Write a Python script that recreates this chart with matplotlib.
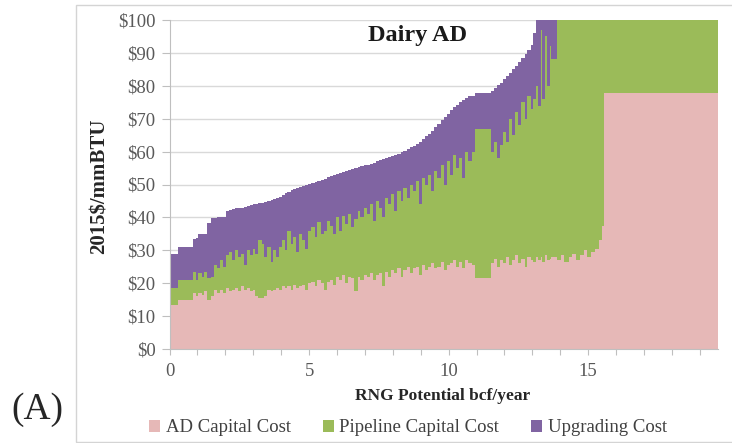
import numpy as np
import matplotlib
matplotlib.use("Agg")
import matplotlib.pyplot as plt
from matplotlib.patches import Patch, Rectangle

# ---- data: one entry per dairy site (sorted by total cost) ----
potential_bcf = [0.30, 0.55, 0.10, 0.08, 0.12, 0.10, 0.10, 0.13, 0.10, 0.12,
                 0.10, 0.12, 0.10, 0.10, 0.12, 0.10, 0.10, 0.12, 0.10, 0.10,
                 0.12, 0.10, 0.10, 0.10, 0.12, 0.10, 0.10, 0.12, 0.10, 0.10,
                 0.10, 0.10, 0.10, 0.10, 0.12, 0.10, 0.10, 0.10, 0.12, 0.10,
                 0.10, 0.12, 0.12, 0.10, 0.12, 0.10, 0.12, 0.10, 0.12, 0.10,
                 0.12, 0.10, 0.12, 0.10, 0.12, 0.10, 0.12, 0.10, 0.12, 0.10,
                 0.12, 0.10, 0.12, 0.10, 0.12, 0.10, 0.12, 0.10, 0.12, 0.10,
                 0.12, 0.10, 0.12, 0.10, 0.12, 0.10, 0.12, 0.10, 0.12, 0.10,
                 0.12, 0.10, 0.12, 0.12, 0.10, 0.12, 0.10, 0.12, 0.10, 0.12,
                 0.10, 0.12, 0.10, 0.13, 0.12, 0.55, 0.12, 0.10, 0.12, 0.10,
                 0.12, 0.10, 0.12, 0.10, 0.12, 0.10, 0.12, 0.10, 0.12, 0.10,
                 0.08, 0.08, 0.10, 0.06, 0.10, 0.06, 0.10, 0.06, 0.20, 0.15,
                 0.12, 0.15, 0.12, 0.15, 0.12, 0.15, 0.12, 0.15, 0.12, 0.15,
                 0.12, 0.08, 4.07]

ad_cost = [13.4, 15.0, 17.0, 16.0, 17.0, 16.5, 17.5, 15.0, 16.0, 18.0,
           17.0, 18.0, 17.0, 18.5, 17.5, 18.0, 18.5, 17.5, 19.0, 18.0,
           18.5, 17.5, 18.0, 16.0, 15.5, 15.5, 16.0, 18.0, 17.5, 18.0,
           18.5, 18.0, 19.0, 18.5, 19.0, 18.0, 19.5, 18.5, 19.0, 19.5,
           18.0, 20.0, 20.5, 19.0, 21.0, 20.0, 18.0, 20.5, 21.0, 19.5,
           22.0, 21.0, 22.5, 20.0, 22.0, 21.5, 17.5, 22.0, 21.0, 22.5,
           22.0, 23.0, 21.0, 22.5, 23.0, 19.0, 23.5, 22.0, 24.0, 23.0,
           24.5, 22.0, 24.0, 25.0, 23.0, 24.5, 25.0, 22.5, 25.5, 24.0,
           25.0, 26.0, 24.5, 25.0, 26.5, 24.0, 25.5, 26.0, 27.0, 25.0,
           26.5, 24.5, 27.0, 26.0, 25.5, 21.6, 26.0, 27.5, 25.0, 27.0,
           26.0, 28.0, 25.5, 27.0, 28.5, 26.0, 27.5, 25.0, 28.0, 27.0,
           26.5, 28.0, 27.0, 28.0, 26.5, 28.5, 27.0, 27.5, 28.0, 27.0,
           28.5, 26.5, 28.0, 29.0, 27.0, 28.5, 30.0, 28.0, 29.5, 30.5,
           33.0, 37.5, 77.8]

pipeline_cost = [5.1, 6.0, 6.5, 5.0, 6.0, 5.5, 6.0, 6.5, 6.0, 7.5,
                 7.5, 9.0, 8.0, 10.0, 12.0, 9.0, 11.5, 10.5, 10.0, 7.5,
                 11.5, 11.0, 12.5, 13.0, 17.5, 16.5, 12.0, 13.0, 9.0, 12.0,
                 9.5, 13.0, 14.0, 11.5, 17.0, 14.0, 14.5, 11.0, 16.0, 13.5,
                 12.5, 16.0, 16.5, 15.0, 17.5, 15.0, 18.0, 18.5, 16.5, 15.5,
                 18.0, 15.0, 18.0, 18.0, 19.0, 15.5, 22.0, 20.0, 19.0, 20.5,
                 19.0, 21.0, 18.0, 22.5, 20.0, 21.0, 22.5, 22.0, 23.0, 19.0,
                 23.5, 23.0, 25.0, 21.0, 27.0, 23.5, 26.0, 21.5, 26.5, 26.0,
                 28.0, 22.0, 29.5, 27.0, 29.5, 26.0, 31.5, 27.0, 32.0, 30.0,
                 31.5, 27.5, 33.0, 31.0, 34.5, 45.4, 34.0, 35.5, 33.0, 35.0,
                 40.0, 35.0, 44.5, 38.0, 43.5, 42.0, 47.5, 45.0, 49.0, 46.0,
                 49.5, 52.0, 47.0, 69.0, 49.5, 66.5, 53.0, 64.5, 60.0, 80.0,
                 80.0, 80.0, 80.0, 80.0, 80.0, 80.0, 80.0, 80.0, 80.0, 80.0,
                 80.0, 80.0, 45.0]

upgrading_cost = [10.5, 10.0, 10.0, 12.7, 12.0, 13.0, 11.5, 16.8, 17.7, 14.2,
                  15.5, 13.0, 15.2, 13.5, 12.7, 15.5, 13.0, 15.0, 14.0, 17.7,
                  13.5, 15.3, 13.5, 15.0, 11.3, 12.5, 16.8, 14.0, 18.8, 15.6,
                  18.0, 15.3, 13.8, 17.3, 11.8, 16.2, 14.6, 19.5, 14.3, 16.6,
                  19.5, 14.2, 13.5, 16.8, 12.7, 16.5, 15.8, 13.2, 15.0, 17.8,
                  13.2, 17.5, 13.3, 16.0, 13.3, 17.6, 15.4, 13.2, 15.5, 12.8,
                  15.0, 12.3, 17.6, 12.0, 14.3, 17.6, 12.0, 14.3, 11.6, 17.0,
                  11.4, 14.8, 11.3, 14.8, 11.3, 13.8, 11.4, 19.0, 11.8, 14.6,
                  12.5, 18.4, 13.4, 16.5, 13.5, 20.5, 14.5, 19.5, 14.5, 19.3,
                  17.0, 23.7, 16.3, 19.8, 17.0, 10.8, 18.5, 16.3, 22.2, 19.0,
                  16.0, 20.0, 14.0, 20.0, 14.0, 19.2, 13.4, 19.6, 14.0, 19.4,
                  20.0, 20.5, 30.0, 13.0, 36.0, 20.0, 38.0, 28.0, 37.0, 20.0,
                  20.0, 20.0, 20.0, 20.0, 20.0, 20.0, 20.0, 20.0, 20.0, 20.0,
                  20.0, 20.0, 25.0]

y_ticks = list(range(0, 101, 10))
y_ticklabels = [f"${v}" for v in y_ticks]
x_ticks = list(range(0, 20))
x_ticklabels = [str(v) if v % 5 == 0 else "" for v in x_ticks]
series_names = ["AD Capital Cost", "Pipeline Capital Cost", "Upgrading Cost"]
colors = ["#E6B8B7", "#9BBB59", "#8064A2"]

# ---- figure ----
serif = ["Liberation Serif", "DejaVu Serif"]
plt.rcParams["font.family"] = serif

fig = plt.figure(figsize=(7.32, 4.43), dpi=100)
# light frame around the chart
fig.patches.append(Rectangle((76 / 732, 1 / 443), 1.0, 1 - 6 / 443,
                             transform=fig.transFigure, fill=False,
                             edgecolor="#d4d4d4", linewidth=1.0))

ax = fig.add_axes([169.5 / 732, 1 - 349 / 443, (718 - 169.5) / 732, (349 - 20) / 443])

w = np.array(potential_bcf)
edges = np.concatenate([[0.0], np.cumsum(w)])
ad = np.array(ad_cost)
pipe = np.array(pipeline_cost)
upg = np.array(upgrading_cost)
lvl1 = ad
lvl2 = ad + pipe
lvl3 = ad + pipe + upg


def ext(a):
    return np.append(a, a[-1])


ax.fill_between(edges, 0, ext(lvl1), step="post", color=colors[0], linewidth=0)
ax.fill_between(edges, ext(lvl1), ext(lvl2), step="post", color=colors[1], linewidth=0)
ax.fill_between(edges, ext(lvl2), ext(lvl3), step="post", color=colors[2], linewidth=0)

ax.set_xlim(0, edges[-1])
ax.set_ylim(0, 100)
ax.set_axisbelow(True)
ax.yaxis.grid(True, color="#d9d9d9", linewidth=1.0)
ax.set_yticks(y_ticks)
ax.set_yticklabels(y_ticklabels)
ax.set_xticks(x_ticks)
ax.set_xticklabels(x_ticklabels)
for s in ["top", "right"]:
    ax.spines[s].set_visible(False)
for s in ["left", "bottom"]:
    ax.spines[s].set_color("#bfbfbf")
ax.tick_params(axis="y", length=6, color="#bfbfbf", labelsize=13.5, labelcolor="#595959", pad=4)
ax.tick_params(axis="x", length=4, color="#bfbfbf", labelsize=13.5, labelcolor="#595959", pad=6)

ax.text(8.9, 95.3, "Dairy AD", ha="center", va="center", fontsize=17.5,
        fontweight="bold", color="#1a1a1a")

fig.text(443 / 732, 1 - 396 / 443, "RNG Potential bcf/year", ha="center", va="center",
         fontsize=12.5, fontweight="bold", color="#262626")
fig.text(100 / 732, 1 - 186 / 443, "2015$/mmBTU", ha="center", va="center",
         rotation=90, fontsize=15, fontweight="bold", color="#262626")
fig.text(37 / 732, 1 - 410 / 443, "(A)", ha="center", va="center",
         fontsize=27, color="#262626")

handles = [Patch(facecolor=c, edgecolor="none") for c in colors]
fig.legend(handles, series_names, loc="center", bbox_to_anchor=(408 / 732, 1 - 428 / 443),
           ncol=3, frameon=False, fontsize=13.5, handlelength=0.6, handleheight=0.6,
           handletextpad=0.3, columnspacing=1.7, labelcolor="#404040")

fig.savefig("out.png", dpi=100)
